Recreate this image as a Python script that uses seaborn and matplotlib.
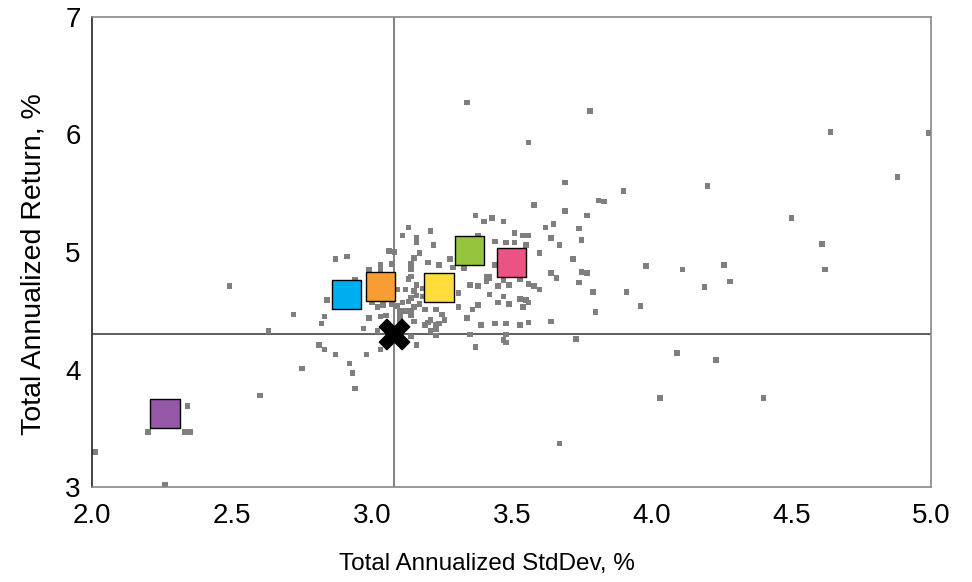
import numpy as np
import pandas as pd
import matplotlib
matplotlib.use("Agg")
import matplotlib.pyplot as plt
import seaborn as sns

# universe of peer funds (std dev %, return %)
peer_std = [
    3.34, 3.56, 3.58, 3.78, 4.64, 4.99, 3.69, 4.88, 4.20, 3.90, 3.81, 3.83, 3.69, 3.77, 4.50,
    3.62, 3.65, 3.74, 3.64, 3.67, 3.75, 4.61, 3.60, 3.72, 3.98, 4.11, 4.26, 4.62, 3.64, 3.66,
    3.75, 3.77, 3.74, 4.28, 3.60, 3.79, 3.91, 4.19, 3.96, 3.80, 3.64, 3.73, 4.09, 4.23, 4.03,
    4.40, 3.67, 2.75, 2.92, 2.93, 2.94, 2.87, 2.83, 2.81, 2.98, 3.03, 3.16, 3.37, 2.49, 2.72,
    2.63, 2.60, 2.34, 2.20, 2.33, 2.35, 2.01, 2.26, 3.13, 3.11, 3.16, 3.16, 3.06, 3.08, 3.17,
    2.87, 2.91, 3.03, 3.07, 3.14, 3.15, 3.14, 2.94, 3.03, 2.84, 2.83, 2.82, 2.97, 2.99, 3.00,
    3.02, 3.04, 3.03, 3.05, 3.07, 3.09, 3.09, 3.12, 3.13, 3.16, 3.15, 3.16, 3.11, 3.13, 3.15,
    3.17, 3.12, 3.14, 3.10, 3.10, 3.15, 3.14, 3.02, 3.14, 3.14, 3.10, 3.14, 2.99, 3.37, 3.40,
    3.43, 3.47, 3.21, 3.22, 3.20, 3.24, 3.28, 3.29, 3.33, 3.38, 3.44, 3.48, 3.51, 3.51, 3.54,
    3.56, 3.55, 3.44, 3.58, 3.56, 3.53, 3.47, 3.42, 3.41, 3.38, 3.35, 3.42, 3.47, 3.45, 3.49,
    3.53, 3.55, 3.56, 3.54, 3.31, 3.31, 3.36, 3.38, 3.34, 3.39, 3.44, 3.48, 3.53, 3.56, 3.35,
    3.48, 3.47, 3.48, 3.18, 3.18, 3.19, 3.19, 3.20, 3.21, 3.23, 3.25, 3.26, 3.24, 3.23, 3.23,
    3.21, 3.23, 3.41, 3.42, 3.45, 3.49,
]
peer_ret = [
    6.27, 5.93, 5.40, 6.20, 6.02, 6.01, 5.59, 5.64, 5.56, 5.52, 5.44, 5.43, 5.35, 5.31, 5.29,
    5.21, 5.24, 5.20, 5.12, 5.06, 5.10, 5.07, 4.99, 4.94, 4.88, 4.85, 4.89, 4.85, 4.82, 4.78,
    4.83, 4.82, 4.74, 4.75, 4.68, 4.66, 4.66, 4.70, 4.54, 4.49, 4.41, 4.26, 4.14, 4.08, 3.76,
    3.76, 3.37, 4.01, 4.05, 3.97, 3.84, 4.13, 4.17, 4.21, 4.13, 4.17, 4.21, 4.19, 4.71, 4.47,
    4.33, 3.78, 3.69, 3.47, 3.47, 3.47, 3.30, 3.02, 5.21, 5.14, 5.12, 5.08, 5.01, 5.00, 4.99,
    4.94, 4.96, 4.89, 4.90, 4.90, 4.95, 4.85, 4.76, 4.84, 4.59, 4.45, 4.39, 4.35, 4.44, 4.57,
    4.53, 4.55, 4.45, 4.46, 4.56, 4.54, 4.68, 4.68, 4.77, 4.72, 4.67, 4.63, 4.57, 4.58, 4.53,
    4.56, 4.50, 4.46, 4.47, 4.42, 4.41, 4.28, 4.33, 4.79, 4.61, 4.50, 4.50, 4.85, 5.31, 5.26,
    5.29, 5.26, 5.18, 5.06, 4.91, 4.89, 4.94, 4.87, 4.86, 5.14, 5.09, 5.08, 5.16, 5.08, 5.14,
    5.14, 5.06, 4.89, 4.71, 4.73, 4.77, 4.76, 4.78, 4.75, 4.71, 4.72, 4.64, 4.62, 4.57, 4.56,
    4.60, 4.59, 4.57, 4.53, 4.65, 4.53, 4.51, 4.55, 4.44, 4.38, 4.39, 4.39, 4.38, 4.40, 4.30,
    4.30, 4.25, 4.23, 4.69, 4.62, 4.51, 4.38, 4.40, 4.42, 4.51, 4.47, 4.42, 4.39, 4.38, 4.34,
    4.33, 4.29, 4.79, 4.79, 4.71, 4.72,
]

# highlighted funds
fund_names = ["Purple", "Blue", "Orange", "Yellow", "Green", "Pink"]
fund_std = [2.26, 2.91, 3.03, 3.24, 3.35, 3.50]
fund_ret = [3.63, 4.64, 4.71, 4.70, 5.01, 4.91]
fund_colors = ["#9558A6", "#00AEEF", "#F89C33", "#FFDD3C", "#95C43D", "#EC5284"]

# benchmark
bench_std = [3.08]
bench_ret = [4.30]

sns.set_style("white")
plt.rcParams["font.family"] = ["Liberation Sans", "DejaVu Sans"]

peers = pd.DataFrame({"std": peer_std, "ret": peer_ret})
funds = pd.DataFrame({"std": fund_std, "ret": fund_ret, "name": fund_names})

fig, ax = plt.subplots(figsize=(9.72, 5.82), dpi=100)
fig.subplots_adjust(left=0.095, right=0.958, top=0.971, bottom=0.163)

ax.axhline(bench_ret[0], color="#333333", linewidth=1.1, zorder=1)
ax.axvline(bench_std[0], color="#777777", linewidth=1.3, zorder=1)

sns.scatterplot(data=peers, x="std", y="ret", marker="s", s=16, color="#7f7f7f",
                edgecolor="none", ax=ax, zorder=2)
sns.scatterplot(data=funds, x="std", y="ret", hue="name", palette=fund_colors,
                marker="s", s=440, edgecolor="black", linewidth=1, legend=False,
                ax=ax, zorder=3)
ax.scatter(bench_std, bench_ret, marker="X", s=480, color="black", zorder=4)

ax.set_xlim(2.0, 5.0)
ax.set_ylim(3, 7)
ax.set_xticks(np.arange(2.0, 5.01, 0.5))
ax.set_xticklabels([f"{v:.1f}" for v in np.arange(2.0, 5.01, 0.5)])
ax.set_yticks([3, 4, 5, 6, 7])
ax.tick_params(axis="both", direction="out", length=7, width=1, color="#555555",
               labelsize=20, labelcolor="black")
ax.tick_params(axis="x", pad=4.5)
ax.tick_params(axis="y", pad=1.5)

for side in ["top", "right", "bottom"]:
    ax.spines[side].set_color("#888888")
ax.spines["left"].set_color("#222222")
for sp in ax.spines.values():
    sp.set_linewidth(1.2)

ax.set_xlabel("Total Annualized StdDev, %", fontsize=17.5, color="black")
ax.set_ylabel("Total Annualized Return, %", fontsize=20.5, color="black")
ax.xaxis.set_label_coords(0.47, -0.14)
ax.yaxis.set_label_coords(-0.055, 0.474)

fig.savefig("out.png", dpi=100)
